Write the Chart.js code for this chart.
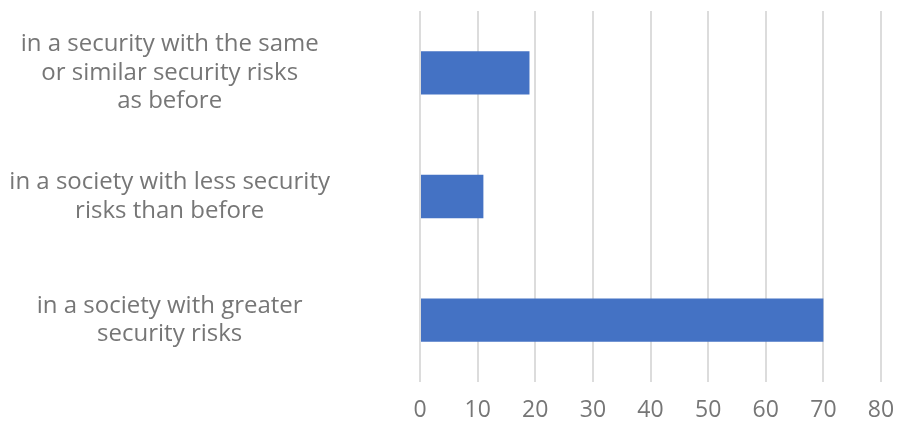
<!DOCTYPE html>
<html>
<head>
<meta charset="utf-8">
<script src="https://cdn.jsdelivr.net/npm/chart.js@4"></script>
<style>
  body { margin: 0; background: #fff; }
  #wrap { width: 900px; height: 425px; }
</style>
</head>
<body>
<div id="wrap"><canvas id="riskChart"></canvas></div>
<script>
const categories = [
  ["in a security with the same", "or similar security risks", "as before"],
  ["in a society with less security", "risks than before"],
  ["in a society with greater", "security risks"]
];
const values = [19, 11, 70];
const xTicks = [0, 10, 20, 30, 40, 50, 60, 70, 80];

const textColor = "#767676";
const ctx = document.getElementById("riskChart").getContext("2d");

new Chart(ctx, {
  type: "bar",
  data: {
    labels: categories,
    datasets: [{
      data: values,
      backgroundColor: "#4472C4",
      borderWidth: 0,
      categoryPercentage: 1,
      barPercentage: 0.35
    }]
  },
  options: {
    indexAxis: "y",
    responsive: true,
    maintainAspectRatio: false,
    animation: false,
    layout: { padding: { top: 11, right: 19, bottom: 0, left: 0 } },
    scales: {
      x: {
        min: xTicks[0],
        max: xTicks[xTicks.length - 1],
        afterBuildTicks: axis => { axis.ticks = xTicks.map(v => ({ value: v })); },
        afterFit: axis => {
          axis.height = 43;
          axis.paddingLeft = 0;
          axis.paddingRight = 0;
        },
        grid: { color: "#dcdcdc", lineWidth: 2, drawTicks: false },
        border: { display: false },
        ticks: {
          color: textColor,
          padding: 15,
          maxRotation: 0,
          font: { family: "'Open Sans'", size: 23, lineHeight: 1.2 }
        }
      },
      y: {
        grid: { display: false, drawTicks: false },
        border: { display: false },
        afterFit: axis => {
          axis.width = 420;
          axis.paddingTop = 0;
          axis.paddingBottom = 0;
        },
        ticks: {
          color: textColor,
          crossAlign: "center",
          padding: 90,
          font: { family: "'Open Sans'", size: 24, lineHeight: 1.2 }
        }
      }
    },
    plugins: {
      legend: { display: false },
      tooltip: { enabled: false }
    }
  }
});
</script>
</body>
</html>
